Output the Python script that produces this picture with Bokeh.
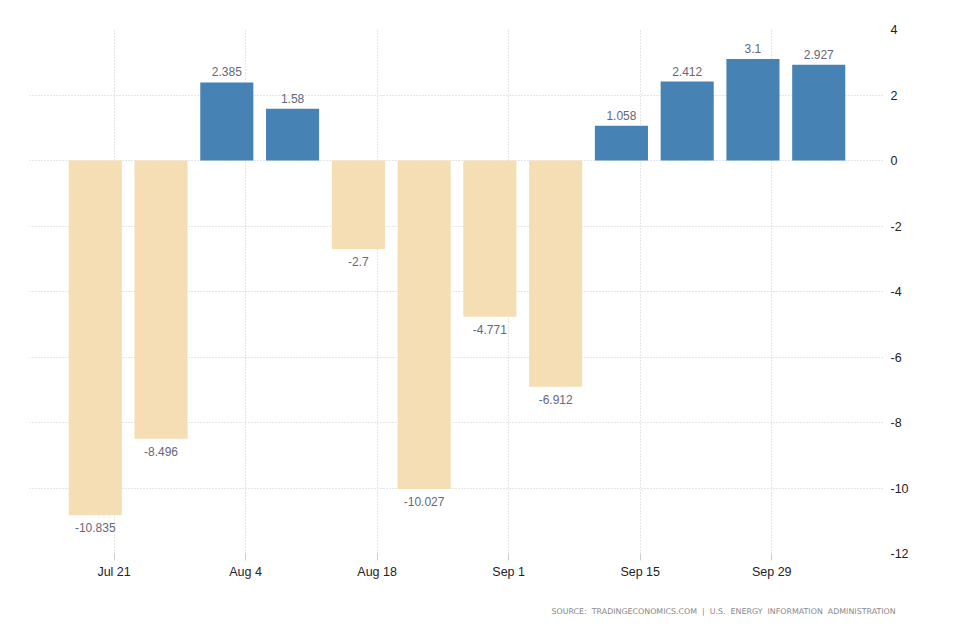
import pandas as pd
from bokeh.plotting import figure
from bokeh.models import ColumnDataSource, FixedTicker, LabelSet, Range1d, Title
from bokeh.core.properties import value
from bokeh.embed import file_html
from bokeh.resources import INLINE

# Data
weeks = ["2019-07-19", "2019-07-26", "2019-08-02", "2019-08-09", "2019-08-16", "2019-08-23",
         "2019-08-30", "2019-09-06", "2019-09-13", "2019-09-20", "2019-09-27", "2019-10-04"]
values = [-10.835, -8.496, 2.385, 1.58, -2.7, -10.027, -4.771, -6.912, 1.058, 2.412, 3.1, 2.927]
tick_dates = ["2019-07-21", "2019-08-04", "2019-08-18", "2019-09-01", "2019-09-15", "2019-09-29"]
tick_labels = ["Jul 21", "Aug 4", "Aug 18", "Sep 1", "Sep 15", "Sep 29"]
y_ticks = [4, 2, 0, -2, -4, -6, -8, -10, -12]
source_text = "SOURCE:  TRADINGECONOMICS.COM  |  U.S.  ENERGY  INFORMATION  ADMINISTRATION"

POS = "#4682B4"
NEG = "#F5DEB3"

def ms(d):
    return int(pd.Timestamp(d).value // 10**6)

DAY = 86400000
x = [ms(d) for d in weeks]
colors = [POS if v >= 0 else NEG for v in values]
labels = [("%g" % v) for v in values]
pos_idx = [i for i, v in enumerate(values) if v >= 0]
neg_idx = [i for i, v in enumerate(values) if v < 0]

src = ColumnDataSource(dict(x=x, top=values, color=colors))
src_pos = ColumnDataSource(dict(x=[x[i] for i in pos_idx], y=[values[i] for i in pos_idx],
                                t=[labels[i] for i in pos_idx]))
src_neg = ColumnDataSource(dict(x=[x[i] for i in neg_idx], y=[values[i] for i in neg_idx],
                                t=[labels[i] for i in neg_idx]))

p = figure(frame_width=855, frame_height=524, x_axis_type="datetime", output_backend="svg",
           toolbar_location=None, y_axis_location="right",
           x_range=Range1d(ms("2019-07-12"), ms("2019-10-11")), y_range=Range1d(-12, 4),
           min_border_left=29, min_border_right=54, min_border_top=29, min_border_bottom=10)
p.outline_line_color = None
p.background_fill_color = "white"

p.vbar(x="x", top="top", bottom=0, width=5.65 * DAY, color="color", source=src, line_color=None)

lbl_kw = dict(text_font=value("Liberation Sans"), text_font_size=value("12px"),
              text_color="#66667a", text_align="center")
p.add_layout(LabelSet(x="x", y="y", text="t", source=src_pos, text_baseline="bottom",
                      y_offset=6, **lbl_kw))
p.add_layout(LabelSet(x="x", y="y", text="t", source=src_neg, text_baseline="top",
                      y_offset=-8, **lbl_kw))

# x axis
xt = [ms(d) for d in tick_dates]
p.xaxis.ticker = FixedTicker(ticks=xt)
p.xaxis.major_label_overrides = {t: l for t, l in zip(xt, tick_labels)}
p.xaxis.axis_line_color = None
p.xaxis.major_tick_in = 0
p.xaxis.major_tick_out = 7
p.xaxis.major_tick_line_color = "#cccccc"
p.xaxis.minor_tick_line_color = None
p.xaxis.major_label_standoff = 4
p.xaxis.major_label_text_font = "Liberation Sans"
p.xaxis.major_label_text_font_size = "12.5px"
p.xaxis.major_label_text_color = "#222222"

# y axis
p.yaxis.ticker = FixedTicker(ticks=y_ticks)
p.yaxis.major_label_overrides = {t: str(t) for t in y_ticks}
p.yaxis.axis_line_color = None
p.yaxis.major_tick_line_color = None
p.yaxis.minor_tick_line_color = None
p.yaxis.major_label_standoff = 0
p.yaxis.major_label_text_align = "left"
p.yaxis.major_label_text_font = "Liberation Sans"
p.yaxis.major_label_text_font_size = "12.5px"
p.yaxis.major_label_text_color = "#222222"

for g in (p.xgrid, p.ygrid):
    g.grid_line_color = "#cccccc"
    g.grid_line_dash = "1 2"
    g.grid_line_width = 1
p.xgrid.ticker = FixedTicker(ticks=xt)
p.ygrid.ticker = FixedTicker(ticks=y_ticks)

p.add_layout(Title(text=source_text.replace(" ", "\u00a0"), align="left", offset=522, standoff=46,
                   text_font="DejaVu Sans", text_font_size="7.9px", text_color="#888888",
                   text_font_style="normal"), "below")

open("out.html", "w").write(file_html(p, INLINE))
